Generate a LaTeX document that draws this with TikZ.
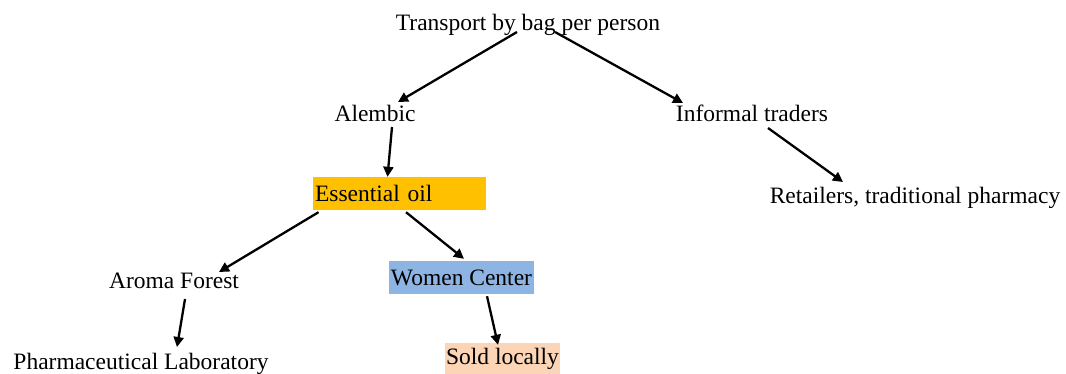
\documentclass[tikz,border=0pt]{standalone}
\usepackage{fontspec}
\setmainfont{Liberation Serif}
\usetikzlibrary{arrows.meta,calc}
\definecolor{oilgold}{HTML}{FFC000}
\definecolor{womenblue}{HTML}{8DB4E2}
\definecolor{soldpeach}{HTML}{FBD5B5}
\begin{document}
\begin{tikzpicture}[x=1pt,y=-1pt,
  lbl/.style={inner sep=0pt,anchor=base,font=\fontsize{23.5}{28}\selectfont},
  boxed/.style={inner sep=0pt,font=\fontsize{23.5}{28}\selectfont,anchor=center},
  arr/.style={line width=2.3pt,-{Triangle[length=10pt,width=10pt]}}]
\useasboundingbox (0,0) rectangle (1066,373);
\node[lbl] (t) at (528,30) {Transport by bag per person};
\node[lbl] (a) at (375,121) {Alembic};
\node[lbl] (i) at (752,121) {Informal traders};
\node[boxed,fill=oilgold,minimum width=173pt,minimum height=33pt,text width=169pt,align=left] (e) at (399.5,193.5) {Essential oil};
\node[lbl] (r) at (915,203) {Retailers, traditional pharmacy};
\node[lbl] (af) at (174,288) {Aroma Forest};
\node[boxed,fill=womenblue,minimum width=145pt,minimum height=33pt] (w) at (461.5,277.5) {Women Center};
\node[lbl] (pl) at (141,369) {Pharmaceutical Laboratory};
\node[boxed,fill=soldpeach,minimum width=115pt,minimum height=31pt] (s) at (502.5,358.5) {Sold locally};
\draw[arr] ($(t.base)+(-11,2)$) -- ($(a.base)+(23,-19)$);
\draw[arr] ($(t.base)+(27,2)$) -- ($(i.base)+(-69,-18)$);
\draw[arr] ($(a.base)+(17,6)$) -- ($(e.north)+(-12,0)$);
\draw[arr] ($(e.south)+(-81,2)$) -- ($(af.base)+(45,-16)$);
\draw[arr] ($(e.south)+(6.5,2)$) -- ($(w.north)+(2.5,-2)$);
\draw[arr] ($(af.base)+(11,11)$) -- ($(pl.base)+(36,-22)$);
\draw[arr] ($(w.south)+(25.5,2)$) -- ($(s.north)+(-4.5,2)$);
\draw[arr] ($(i.base)+(16,7)$) -- ($(r.base)+(-72,-21)$);
\end{tikzpicture}
\end{document}
